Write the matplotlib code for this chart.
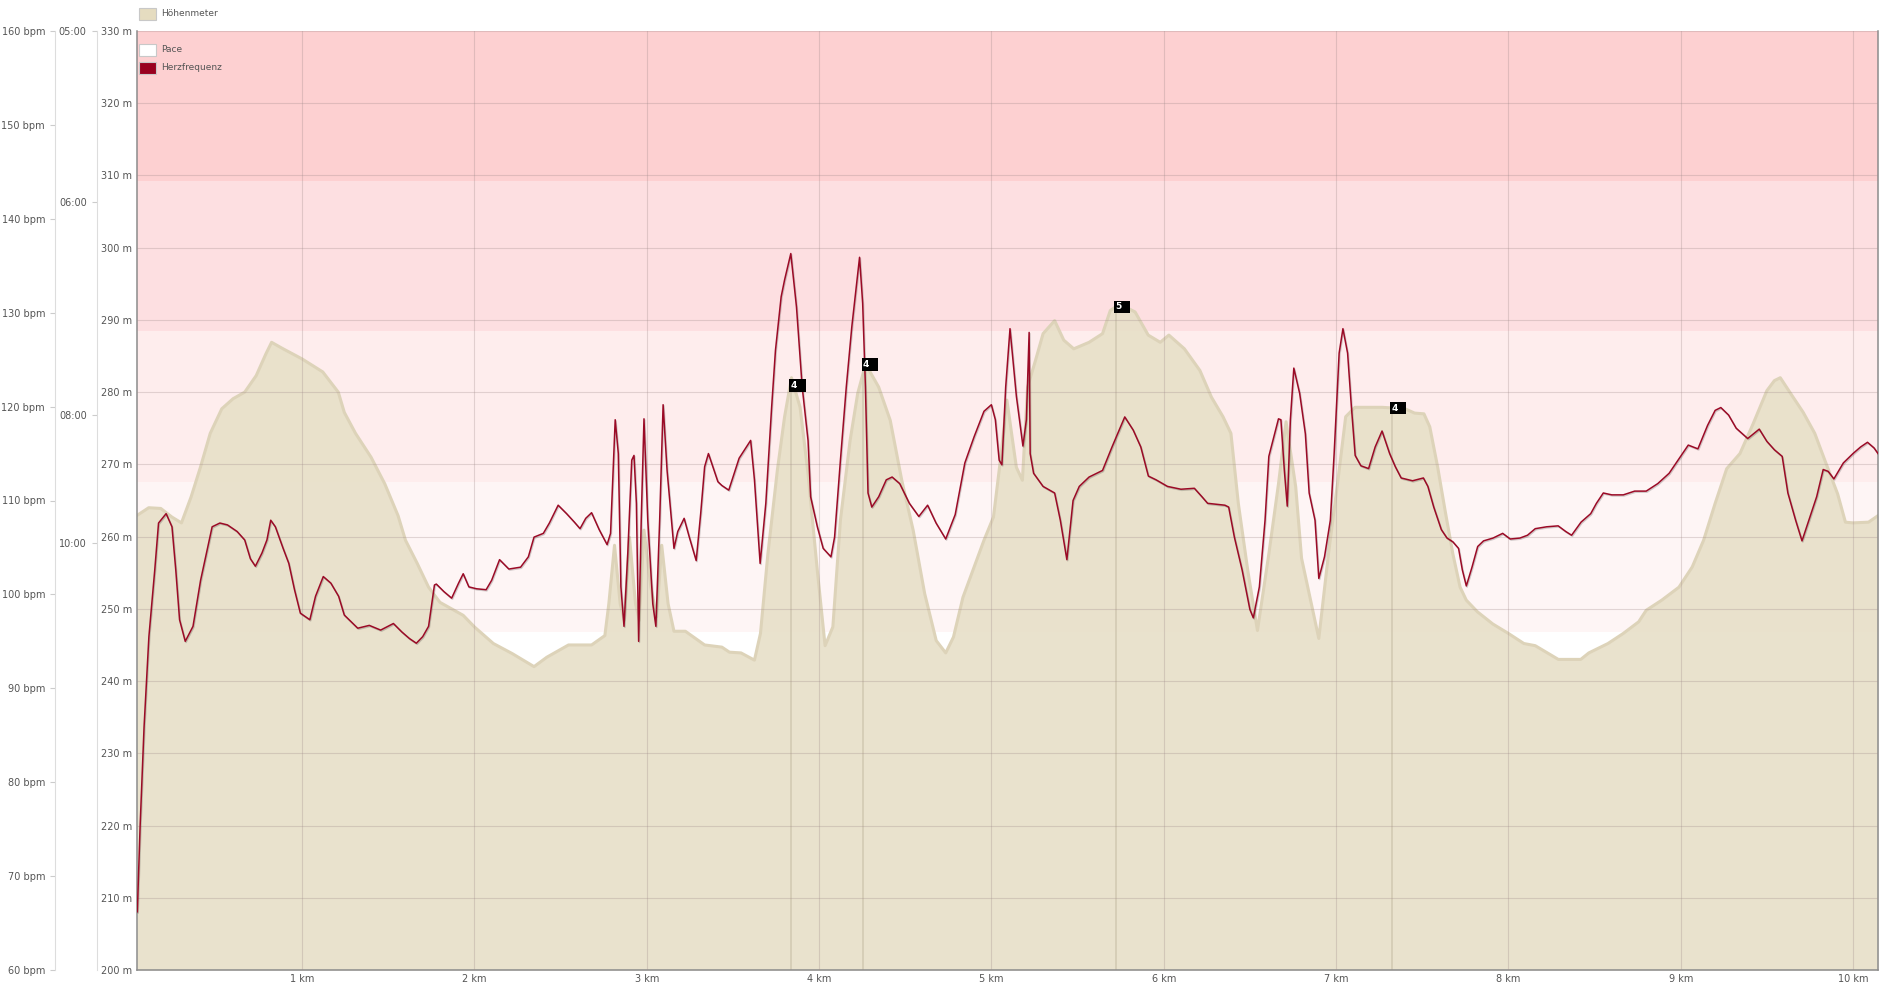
import numpy as np
import matplotlib.pyplot as plt
import matplotlib.patheffects as pe
from matplotlib.patches import Rectangle

# elevation profile (km, m)
elev_km = [0.04, 0.11, 0.18, 0.245, 0.30, 0.356, 0.41, 0.467, 0.534, 0.60, 0.667, 0.734, 0.79, 0.823,
           0.89, 1.0, 1.12, 1.21, 1.245, 1.31, 1.40, 1.48, 1.557, 1.60, 1.668, 1.734, 1.80, 1.935,
           2.0, 2.11, 2.22, 2.346, 2.42, 2.546, 2.68, 2.757, 2.78, 2.813, 2.846, 2.87, 2.90, 2.935,
           2.957, 2.984, 3.024, 3.058, 3.087, 3.124, 3.158, 3.224, 3.336, 3.436, 3.48, 3.547, 3.625,
           3.66, 3.703, 3.758, 3.80, 3.84, 3.89, 3.936, 3.99, 4.035, 4.08, 4.124, 4.18, 4.224, 4.27,
           4.346, 4.413, 4.48, 4.546, 4.613, 4.68, 4.735, 4.78, 4.835, 4.90, 4.957, 5.012, 5.057,
           5.09, 5.145, 5.18, 5.21, 5.256, 5.30, 5.367, 5.42, 5.478, 5.567, 5.645, 5.69, 5.745,
           5.834, 5.91, 5.98, 6.03, 6.12, 6.21, 6.277, 6.344, 6.39, 6.433, 6.488, 6.544, 6.61,
           6.666, 6.71, 6.766, 6.8, 6.9, 6.956, 7.011, 7.056, 7.11, 7.267, 7.40, 7.456, 7.51, 7.544,
           7.59, 7.633, 7.678, 7.72, 7.756, 7.82, 7.91, 8.0, 8.09, 8.156, 8.29, 8.42, 8.467, 8.578,
           8.667, 8.756, 8.8, 8.89, 8.99, 9.067, 9.133, 9.2, 9.267, 9.344, 9.42, 9.5, 9.544, 9.578,
           9.644, 9.711, 9.778, 9.844, 9.911, 9.956, 10.0, 10.09, 10.145]
elev_m = [262.9, 264.0, 263.9, 262.7, 261.9, 265.5, 269.6, 274.3, 277.7, 279.1, 280.0, 282.3, 285.3, 286.9,
          286.0, 284.6, 282.8, 280.0, 277.2, 274.3, 271.0, 267.3, 262.9, 259.5, 256.3, 253.0, 250.9, 249.1,
          247.5, 245.2, 243.8, 242.0, 243.3, 245.0, 245.0, 246.3, 250.7, 258.8, 250.7, 248.4, 259.9, 250.7,
          248.4, 260.9, 253.0, 248.9, 258.8, 250.7, 246.9, 246.9, 245.0, 244.7, 244.0, 243.9, 242.9,
          246.6, 257.6, 269.2, 276.6, 282.0, 277.9, 268.7, 255.3, 244.9, 247.5, 262.3, 273.3, 279.8, 283.9,
          280.7, 276.1, 267.8, 260.9, 252.1, 245.6, 243.9, 246.1, 251.6, 255.8, 259.5, 262.7, 271.5,
          278.9, 269.6, 267.8, 280.7, 284.4, 288.1, 289.9, 287.2, 286.0, 286.9, 288.1, 291.3, 292.2,
          291.1, 287.9, 286.9, 287.9, 286.0, 283.0, 279.3, 276.6, 274.3, 264.6, 255.3, 247.0, 257.6,
          267.3, 275.9, 266.9, 257.0, 245.9, 257.6, 267.8, 276.6, 277.9, 277.9, 277.7, 277.1, 277.0, 275.2,
          269.6, 263.6, 257.6, 253.0, 251.2, 249.6, 247.9, 246.6, 245.2, 244.9, 243.0, 243.0, 243.9, 245.2,
          246.6, 248.2, 249.8, 251.2, 253.0, 255.8, 259.5, 264.6, 269.4, 271.5, 275.6, 280.2, 281.6, 282.0,
          279.6, 277.2, 274.3, 270.1, 265.9, 262.0, 261.9, 262.0, 262.9]

# heart rate (km, bpm)
hr_km = [0.044, 0.06, 0.083, 0.111, 0.145, 0.167, 0.211, 0.245, 0.267, 0.289, 0.322, 0.367, 0.411, 0.445,
         0.478, 0.523, 0.567, 0.623, 0.667, 0.70, 0.729, 0.767, 0.796, 0.818, 0.845, 0.89, 0.923, 0.956,
         0.99, 1.045, 1.078, 1.123, 1.167, 1.212, 1.245, 1.323, 1.39, 1.456, 1.53, 1.579, 1.623, 1.663,
         1.70, 1.734, 1.768, 1.779, 1.823, 1.868, 1.908, 1.935, 1.968, 2.012, 2.068, 2.10, 2.146, 2.2,
         2.268, 2.313, 2.346, 2.40, 2.435, 2.486, 2.535, 2.58, 2.613, 2.646, 2.68, 2.724, 2.77, 2.79,
         2.817, 2.835, 2.85, 2.868, 2.89, 2.913, 2.926, 2.94, 2.953, 2.968, 2.984, 3.006, 3.035, 3.053,
         3.075, 3.095, 3.118, 3.158, 3.18, 3.217, 3.247, 3.287, 3.313, 3.336, 3.358, 3.391, 3.413, 3.436,
         3.476, 3.536, 3.603, 3.625, 3.658, 3.691, 3.725, 3.747, 3.78, 3.80, 3.836, 3.869, 3.902, 3.936,
         3.951, 3.99, 4.024, 4.069, 4.09, 4.124, 4.158, 4.19, 4.235, 4.253, 4.269, 4.284, 4.306, 4.346,
         4.39, 4.424, 4.468, 4.524, 4.579, 4.63, 4.679, 4.735, 4.79, 4.846, 4.90, 4.957, 5.0, 5.023,
         5.045, 5.061, 5.083, 5.108, 5.145, 5.183, 5.203, 5.219, 5.225, 5.245, 5.30, 5.367, 5.40, 5.438,
         5.474, 5.51, 5.567, 5.645, 5.70, 5.774, 5.823, 5.867, 5.911, 5.956, 6.022, 6.10, 6.178, 6.222,
         6.255, 6.355, 6.377, 6.41, 6.455, 6.50, 6.52, 6.555, 6.588, 6.61, 6.666, 6.68, 6.70, 6.717,
         6.735, 6.755, 6.789, 6.822, 6.844, 6.878, 6.9, 6.933, 6.967, 6.989, 7.018, 7.04, 7.067, 7.089,
         7.111, 7.144, 7.189, 7.227, 7.267, 7.311, 7.344, 7.378, 7.444, 7.507, 7.533, 7.567, 7.611,
         7.644, 7.678, 7.711, 7.733, 7.756, 7.789, 7.822, 7.856, 7.911, 7.967, 8.011, 8.067, 8.111,
         8.156, 8.222, 8.289, 8.333, 8.367, 8.422, 8.478, 8.511, 8.551, 8.6, 8.667, 8.733, 8.8, 8.867,
         8.933, 9.0, 9.044, 9.1, 9.156, 9.2, 9.233, 9.278, 9.322, 9.389, 9.456, 9.5, 9.544, 9.589,
         9.622, 9.667, 9.704, 9.744, 9.789, 9.827, 9.856, 9.889, 9.944, 10.0, 10.044, 10.084, 10.122,
         10.145]
hr_bpm = [66.2, 75.3, 85.9, 95.5, 102.6, 107.6, 108.6, 107.2, 102.6, 97.3, 95.0, 96.6, 101.5, 104.4,
          107.2, 107.6, 107.4, 106.7, 105.8, 103.8, 103.0, 104.4, 105.8, 107.9, 107.2, 104.9, 103.3, 100.5,
          98.0, 97.3, 99.8, 101.9, 101.2, 99.8, 97.8, 96.4, 96.7, 96.2, 96.9, 96.0, 95.3, 94.8,
          95.5, 96.6, 101.0, 101.1, 100.3, 99.6, 101.2, 102.2, 100.8, 100.6, 100.5, 101.5, 103.7, 102.7,
          102.9, 104.0, 106.1, 106.5, 107.6, 109.5, 108.6, 107.7, 107.0, 108.1, 108.7, 106.9, 105.3, 106.5,
          118.6, 115.0, 100.8, 96.6, 104.4, 114.3, 114.8, 109.7, 95.0, 107.9, 118.7, 107.9, 99.0, 96.6,
          107.9, 120.2, 113.2, 104.9, 106.7, 108.1, 106.1, 103.6, 108.6, 113.6, 115.0, 113.2, 112.0, 111.6,
          111.1, 114.5, 116.4, 112.2, 103.3, 109.7, 120.0, 126.0, 131.7, 133.5, 136.3, 130.6, 122.1, 116.4,
          110.4, 107.2, 104.9, 104.0, 106.1, 114.3, 122.1, 128.5, 135.9, 131.0, 122.1, 110.8, 109.3, 110.4,
          112.2, 112.5, 111.8, 109.7, 108.3, 109.5, 107.6, 105.9, 108.5, 114.0, 116.8, 119.5, 120.2, 118.6,
          114.3, 113.8, 122.1, 128.3, 121.1, 115.8, 118.6, 127.9, 115.0, 112.9, 111.5, 110.8, 107.9, 103.7,
          110.0, 111.5, 112.5, 113.2, 115.7, 118.9, 117.5, 115.7, 112.6, 112.2, 111.5, 111.2, 111.3, 110.4,
          109.7, 109.5, 109.3, 106.1, 102.6, 98.4, 97.5, 100.8, 107.9, 114.7, 118.7, 118.6, 113.2, 109.4,
          118.6, 124.1, 121.4, 117.1, 110.8, 107.9, 101.7, 104.0, 107.9, 115.0, 125.7, 128.3, 125.7, 120.0,
          114.8, 113.7, 113.4, 115.7, 117.4, 115.0, 113.6, 112.4, 112.1, 112.4, 111.5, 109.3, 106.9,
          106.0, 105.6, 104.9, 102.6, 100.9, 102.9, 105.1, 105.7, 106.0, 106.5, 105.9, 106.0, 106.3,
          107.0, 107.2, 107.3, 106.7, 106.3, 107.7, 108.6, 109.7, 110.8, 110.6, 110.6, 111.0, 111.0, 111.8,
          112.9, 114.7, 115.9, 115.5, 118.0, 119.6, 119.9, 119.1, 117.7, 116.6, 117.6, 116.3, 115.4, 114.7,
          110.8, 107.9, 105.7, 107.9, 110.4, 113.3, 113.1, 112.3, 114.0, 115.0, 115.7, 116.2, 115.6,
          115.0]

zone_edges = [96, 112, 128, 144, 160]
zone_colors = ['#fef5f5', '#feeded', '#fddfe1', '#fdd0d1']

lap_km = [3.838, 4.257, 5.723, 7.322]
lap_elev = [280.9, 283.8, 291.8, 277.8]
lap_labels = ['4', '4', '5', '4']

km_ticks = list(range(1, 11))
elev_ticks = list(range(200, 331, 10))
hr_ticks = list(range(60, 161, 10))
pace_min = [5, 6, 8, 10]
pace_labels = ['05:00', '06:00', '08:00', '10:00']

legend_labels = ['Höhenmeter', 'Pace', 'Herzfrequenz']
legend_colors = ['#e5dcc0', '#ffffff', '#99001f']
legend_ypx = [14, 50, 68]

W, H = 1893, 986
fig = plt.figure(figsize=(W / 100, H / 100), dpi=100)
rect = [137 / W, 16 / H, 1741 / W, 939 / H]
xlim = (0.042, 10.145)
txt = '#555555'

# heart rate zones + bpm axis
ax_zone = fig.add_axes(rect, zorder=0)
ax_zone.set_xlim(*xlim)
ax_zone.set_ylim(60, 160)
for lo, hi, c in zip(zone_edges[:-1], zone_edges[1:], zone_colors):
    ax_zone.axhspan(lo, hi, color=c, lw=0)
for s in ['top', 'right', 'bottom']:
    ax_zone.spines[s].set_visible(False)
ax_zone.spines['left'].set_position(('outward', 59))
ax_zone.spines['left'].set_color('#dddddd')
ax_zone.set_xticks([])
ax_zone.set_yticks(hr_ticks)
ax_zone.set_yticklabels([f'{v} bpm' for v in hr_ticks])
ax_zone.tick_params(axis='y', color='#cccccc', labelcolor=txt, length=3.6, width=0.8, pad=3.6, labelsize=7)

# pace axis (linear in speed)
ax_pace = fig.add_axes(rect, zorder=0.5)
ax_pace.patch.set_visible(False)
ax_pace.set_xlim(*xlim)
ax_pace.set_ylim(1, 12)
for s in ['top', 'right', 'bottom']:
    ax_pace.spines[s].set_visible(False)
ax_pace.spines['left'].set_position(('outward', 29))
ax_pace.spines['left'].set_color('#dddddd')
ax_pace.set_xticks([])
ax_pace.set_yticks([60 / p for p in pace_min])
ax_pace.set_yticklabels(pace_labels)
ax_pace.tick_params(axis='y', color='#cccccc', labelcolor=txt, length=3.6, width=0.8, pad=3.6, labelsize=7)

# elevation
ax = fig.add_axes(rect, zorder=1)
ax.patch.set_visible(False)
ax.set_xlim(*xlim)
ax.set_ylim(200, 330)
ax.fill_between(elev_km, elev_m, 200, color='#e8e0c9', alpha=0.92, lw=0)
ax.plot(elev_km, elev_m, color='#ddd3b9', lw=2.2, solid_joinstyle='round')
ax.vlines(lap_km, 200, lap_elev, color='#d3cab3', lw=1.2)
ax.set_xticks(km_ticks)
ax.set_xticklabels([f'{k} km' for k in km_ticks])
ax.set_yticks(elev_ticks)
ax.set_yticklabels([f'{v} m' for v in elev_ticks])
ax.tick_params(axis='both', length=0, labelcolor=txt, labelsize=7)
ax.tick_params(axis='y', pad=3.6)
ax.tick_params(axis='x', pad=3)
ax.set_axisbelow(False)
ax.grid(True, color='#a08a8a', alpha=0.3, lw=0.8)
ax.spines['top'].set_visible(False)
for s in ['left', 'bottom', 'right']:
    ax.spines[s].set_color('#8c8c8c')
    ax.spines[s].set_linewidth(1.1)

# heart rate line
ax_hr = fig.add_axes(rect, zorder=2)
ax_hr.patch.set_visible(False)
ax_hr.axis('off')
ax_hr.set_xlim(*xlim)
ax_hr.set_ylim(60, 160)
ax_hr.plot(hr_km, hr_bpm, color='#9b0a26', lw=1.1, solid_joinstyle='round',
           path_effects=[pe.SimpleLineShadow(offset=(0.6, -0.8), shadow_color='black', alpha=0.18),
                         pe.Normal()])

for x, y, s in zip(lap_km, lap_elev, lap_labels):
    ax_hr.text(x, y, s + '  ', transform=ax.transData, ha='left', va='center', color='white',
               fontsize=6.5, fontweight='bold', zorder=5,
               bbox=dict(boxstyle='square,pad=0.2', fc='black', ec='none'))

# legend
for lbl, c, ypx in zip(legend_labels, legend_colors, legend_ypx):
    fig.patches.append(Rectangle((139 / W, 1 - (ypx + 6) / H), 17 / W, 12 / H, transform=fig.transFigure,
                                 fc=c, ec='#c8c8c8', lw=0.8, zorder=5, figure=fig))
    fig.text(161 / W, 1 - ypx / H, lbl, va='center', ha='left', fontsize=6.5, color=txt, zorder=5)

fig.savefig('out.png', dpi=100)
